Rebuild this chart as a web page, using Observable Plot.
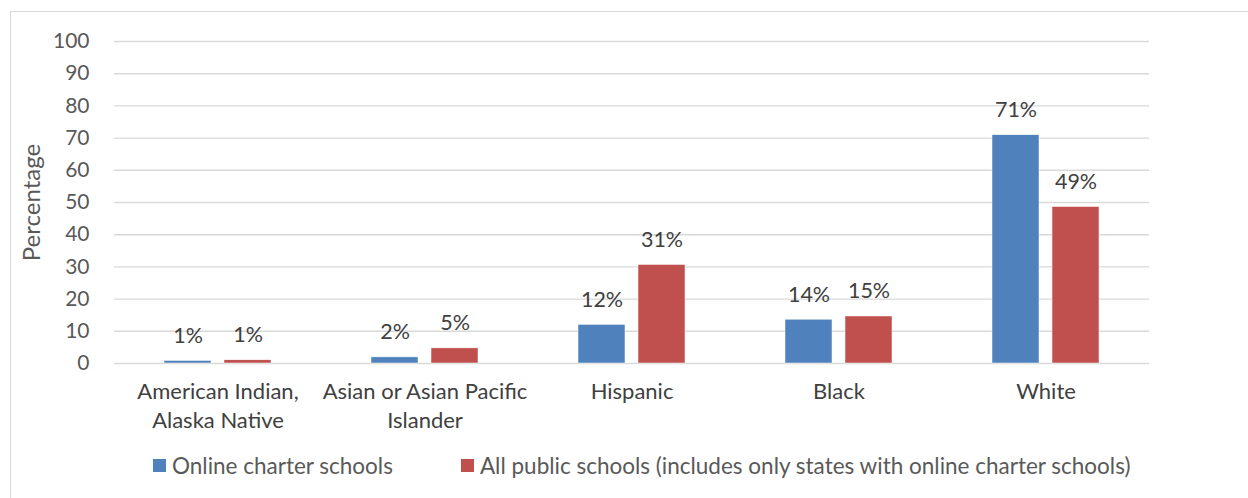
<!DOCTYPE html>
<html>
<head>
<meta charset="utf-8">
<script src="https://cdn.jsdelivr.net/npm/d3@7"></script>
<script src="https://cdn.jsdelivr.net/npm/@observablehq/plot@0.6"></script>
<style>
  html, body { margin: 0; padding: 0; background: #fff; }
  body { width: 1248px; height: 498px; position: relative; overflow: hidden; font-family: Lato, "Open Sans", sans-serif; }
  #frame { position: absolute; left: 10px; top: 11px; width: 1300px; height: 600px; border: 1.5px solid #d9d9d9; box-sizing: border-box; }
  #chart { position: absolute; left: 0; top: 0; }
  #legend { position: absolute; top: 452px; left: 153px; display: flex; align-items: center; font-size: 22.5px; color: #595959; white-space: nowrap; }
  .item { display: flex; align-items: center; }
  .sw { width: 13px; height: 13px; margin-right: 6px; }
</style>
</head>
<body>
<div id="frame"></div>
<div id="chart"></div>
<div id="legend"></div>
<script>
const categories = ["American Indian,\nAlaska Native", "Asian or Asian Pacific\nIslander", "Hispanic", "Black", "White"];
const seriesNames = ["Online charter schools", "All public schools (includes only states with online charter schools)"];
const onlineCharter = [0.8, 1.9, 12.0, 13.6, 70.9];
const allPublic = [1.0, 4.7, 30.6, 14.6, 48.6];
const yTicks = [0, 10, 20, 30, 40, 50, 60, 70, 80, 90, 100];
const colors = ["#4f81bd", "#c0504d"];

const data = [];
categories.forEach((c, i) => {
  data.push({category: c, series: seriesNames[0], value: onlineCharter[i]});
  data.push({category: c, series: seriesNames[1], value: allPublic[i]});
});

const plot = Plot.plot({
  width: 1248,
  height: 440,
  marginLeft: 114,
  marginRight: 99,
  marginTop: 41,
  marginBottom: 77,
  style: {fontFamily: "Lato, 'Open Sans', sans-serif", fontSize: "21px", color: "#595959", background: "transparent"},
  fx: {domain: categories, padding: 0, label: null},
  x: {domain: seriesNames, paddingInner: 0.21, paddingOuter: 0.82, axis: null},
  y: {domain: [0, 100], label: null},
  color: {domain: seriesNames, range: colors},
  marks: [
    Plot.ruleY(yTicks, {stroke: "#d9d9d9", strokeWidth: 1.4}),
    Plot.barY(data, {fx: "category", x: "series", y: "value", fill: "series", stroke: "#ffffff", strokeWidth: 0.5}),
    Plot.text(data, {fx: "category", x: "series", y: "value", text: d => Math.round(d.value) + "%", dy: -25, fill: "#404040", fontSize: 21.5}),
    Plot.axisY(yTicks, {tickSize: 0, tickPadding: 25, label: "Percentage", labelAnchor: "center", labelOffset: 92, labelArrow: "none", fill: "#595959", fontSize: 21}),
    Plot.axisFx({anchor: "bottom", tickSize: 0, tickPadding: 15, label: null, fill: "#404040", fontSize: 22, lineHeight: 1.32})
  ]
});
document.getElementById("chart").appendChild(plot);

// enlarge the y-axis title to match the reference
plot.querySelectorAll("text").forEach(t => {
  if (t.textContent.trim() === "Percentage") t.setAttribute("font-size", 24);
});

const legend = document.getElementById("legend");
const gaps = [0, 68];
seriesNames.forEach((s, i) => {
  const it = document.createElement("div");
  it.className = "item";
  it.style.marginLeft = gaps[i] + "px";
  const sw = document.createElement("div");
  sw.className = "sw";
  sw.style.background = colors[i];
  const t = document.createElement("span");
  t.textContent = s;
  it.appendChild(sw);
  it.appendChild(t);
  legend.appendChild(it);
});
</script>
</body>
</html>
